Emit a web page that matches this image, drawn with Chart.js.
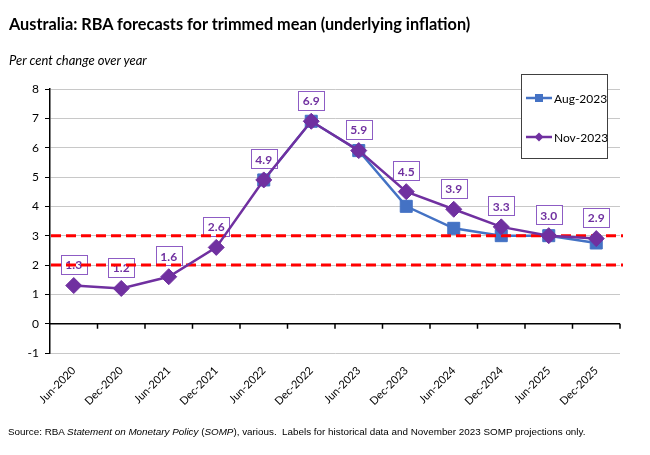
<!DOCTYPE html>
<html>
<head>
<meta charset="utf-8">
<script src="https://cdn.jsdelivr.net/npm/chart.js@4.4.0/dist/chart.umd.min.js"></script>
<style>
  body { margin: 0; background: #fff; }
  #wrap { position: relative; width: 650px; height: 455px; overflow: hidden; }
  #chart { position: absolute; left: 0; top: 0; }
  .txt { position: absolute; white-space: nowrap; color: #000; }
  #title { left: 9px; top: 14px; font: bold 16.3px Lato, "Open Sans", sans-serif; }
  #sub { left: 9px; top: 52px; font: italic 13px Lato, "Open Sans", sans-serif; }
  #source { left: 8px; top: 426px; font: 9.85px "Liberation Sans", Arial, sans-serif; }
</style>
</head>
<body>
<div id="wrap">
  <canvas id="chart" width="650" height="455"></canvas>
  <div id="title" class="txt">Australia: RBA forecasts for trimmed mean (underlying inflation)</div>
  <div id="sub" class="txt">Per cent change over year</div>
  <div id="source" class="txt">Source: RBA <i>Statement on Monetary Policy</i> (<i>SOMP</i>), various.&nbsp; Labels for historical data and November 2023 SOMP projections only.</div>
</div>
<script>
const categories = ['Jun-2020', 'Dec-2020', 'Jun-2021', 'Dec-2021', 'Jun-2022', 'Dec-2022',
                    'Jun-2023', 'Dec-2023', 'Jun-2024', 'Dec-2024', 'Jun-2025', 'Dec-2025'];
const aug2023 = [null, null, null, null, 4.9, 6.9, 5.9, 4.0, 3.25, 3.0, 3.0, 2.75];
const nov2023 = [1.3, 1.2, 1.6, 2.6, 4.9, 6.9, 5.9, 4.5, 3.9, 3.3, 3.0, 2.9];
const targetBand = [2, 3];   // RBA target band, dashed red lines
const yMin = -1;
const yMax = 8;

const BLUE = '#4472C4';
const PURPLE = '#7030A0';
const FONT = 'Lato, "Open Sans", sans-serif';

// black zero line with category tick marks
const zeroAxis = {
    id: 'zeroAxis',
    beforeDatasetsDraw(chart) {
        const ctx = chart.ctx;
        const area = chart.chartArea;
        const y0 = chart.scales.y.getPixelForValue(0);
        const n = categories.length;
        const step = (area.right - area.left) / n;
        ctx.save();
        ctx.strokeStyle = '#000';
        ctx.lineWidth = 1.5;
        ctx.beginPath();
        ctx.moveTo(area.left, y0);
        ctx.lineTo(area.right, y0);
        for (let i = 1; i <= n; i++) {
            const x = area.left + step * i;
            ctx.moveTo(x, y0);
            ctx.lineTo(x, y0 + 5);
        }
        ctx.stroke();
        ctx.restore();
    }
};

// labels on Nov points and the target lines, drawn before the Nov series
const extras = {
    id: 'extras',
    afterDatasetDraw(chart, args) {
        if (args.index !== 0) return;
        const ctx = chart.ctx;
        const area = chart.chartArea;
        const novMeta = chart.getDatasetMeta(1);
        ctx.save();
        ctx.font = 'bold 12px ' + FONT;
        ctx.textAlign = 'center';
        ctx.textBaseline = 'middle';
        novMeta.data.forEach((pt, i) => {
            const txt = nov2023[i].toFixed(1);
            const w = ctx.measureText(txt).width + 9;
            const h = 19;
            const cy = pt.y - 21;
            ctx.fillStyle = '#fff';
            ctx.fillRect(pt.x - w / 2, cy - h / 2, w, h);
            ctx.strokeStyle = '#8d5cc4';
            ctx.lineWidth = 1;
            ctx.strokeRect(Math.round(pt.x - w / 2) + 0.5, Math.round(cy - h / 2) + 0.5, Math.round(w), h);
            ctx.fillStyle = PURPLE;
            ctx.fillText(txt, pt.x, cy + 1);
        });

        ctx.strokeStyle = '#ff0000';
        ctx.lineWidth = 3;
        ctx.setLineDash([10, 5]);
        targetBand.forEach(v => {
            const y = chart.scales.y.getPixelForValue(v);
            ctx.beginPath();
            ctx.moveTo(area.left + 1, y);
            ctx.lineTo(area.right + 3, y);
            ctx.stroke();
        });
        ctx.restore();
    }
};

// boxed legend inside the plot
const boxLegend = {
    id: 'boxLegend',
    afterDraw(chart) {
        const ctx = chart.ctx;
        ctx.save();
        ctx.fillStyle = '#fff';
        ctx.fillRect(521, 74, 86, 84);
        ctx.strokeStyle = '#404040';
        ctx.lineWidth = 1;
        ctx.strokeRect(521.5, 74.5, 86, 84);

        const items = [
            { text: 'Aug-2023', color: BLUE, y: 98, marker: 'square' },
            { text: 'Nov-2023', color: PURPLE, y: 137, marker: 'diamond' }
        ];
        ctx.font = '12px ' + FONT;
        ctx.textBaseline = 'middle';
        items.forEach(it => {
            ctx.strokeStyle = it.color;
            ctx.lineWidth = 2.5;
            ctx.beginPath();
            ctx.moveTo(526, it.y);
            ctx.lineTo(552, it.y);
            ctx.stroke();
            ctx.fillStyle = it.color;
            if (it.marker === 'square') {
                ctx.fillRect(535, it.y - 4, 8, 8);
            } else {
                ctx.beginPath();
                ctx.moveTo(539, it.y - 4.5);
                ctx.lineTo(543.5, it.y);
                ctx.lineTo(539, it.y + 4.5);
                ctx.lineTo(534.5, it.y);
                ctx.closePath();
                ctx.fill();
            }
            ctx.fillStyle = '#000';
            ctx.fillText(it.text, 554, it.y + 1);
        });
        ctx.restore();
    }
};

const ctx = document.getElementById('chart').getContext('2d');
const chart = new Chart(ctx, {
    type: 'line',
    data: {
        labels: categories,
        datasets: [{
            label: 'Aug-2023',
            data: aug2023,
            order: 1,
            borderColor: BLUE,
            backgroundColor: BLUE,
            borderWidth: 2.5,
            pointStyle: 'rect',
            pointRadius: 8.5,
            pointBorderWidth: 1,
            tension: 0
        }, {
            label: 'Nov-2023',
            data: nov2023,
            order: 0,
            borderColor: PURPLE,
            backgroundColor: PURPLE,
            borderWidth: 2.5,
            pointStyle: 'rectRot',
            pointRadius: 8,
            pointBorderWidth: 1,
            tension: 0
        }]
    },
    options: {
        responsive: false,
        animation: false,
        devicePixelRatio: 1,
        layout: { padding: { top: 89, left: 0, right: 30, bottom: 44 } },
        plugins: {
            legend: { display: false },
            tooltip: { enabled: false }
        },
        scales: {
            x: {
                offset: true,
                grid: { display: false },
                border: { display: false },
                ticks: {
                    autoSkip: false,
                    minRotation: 45,
                    maxRotation: 45,
                    color: '#000',
                    padding: 3,
                    font: { family: FONT, size: 11 }
                },
                afterFit(scale) { scale.height = 58; }
            },
            y: {
                min: yMin,
                max: yMax,
                ticks: {
                    stepSize: 1,
                    color: '#000',
                    padding: 6,
                    font: { family: FONT, size: 12 }
                },
                grid: { color: '#c8c8c8', tickColor: '#000', tickLength: 5, lineWidth: 1 },
                border: { color: '#000', width: 1.5 },
                afterFit(scale) { scale.width = 50; }
            }
        }
    },
    plugins: [zeroAxis, extras, boxLegend]
});
</script>
</body>
</html>
